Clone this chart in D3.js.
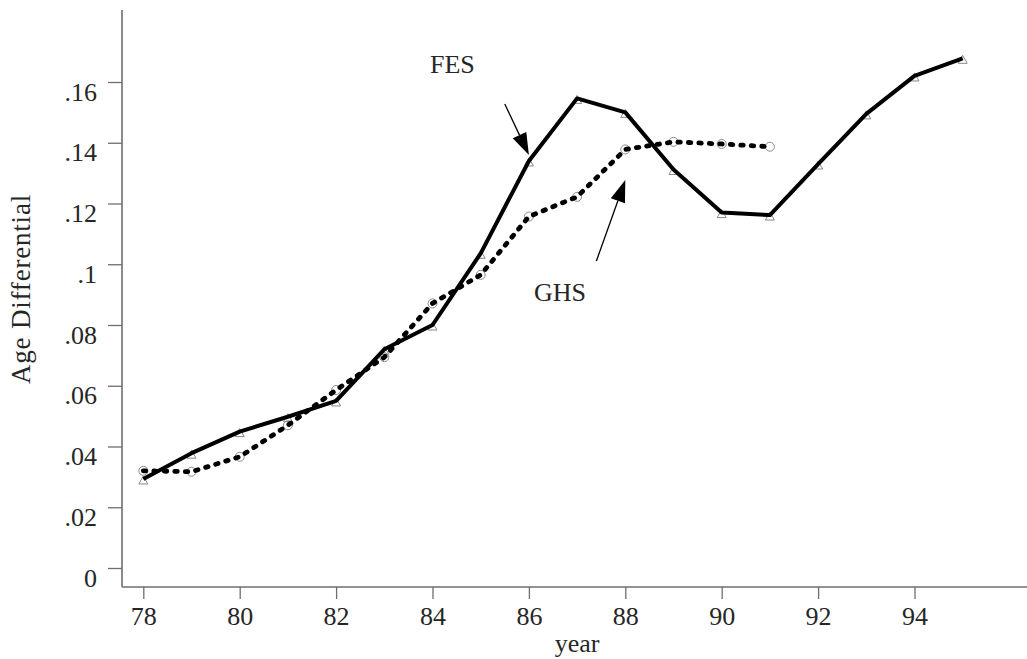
<!DOCTYPE html>
<html>
<head>
<meta charset="utf-8">
<script src="https://cdn.jsdelivr.net/npm/d3@7"></script>
<style>
  html, body { margin: 0; padding: 0; background: #fff; }
  svg { display: block; }
  text { font-family: "Liberation Serif", "DejaVu Serif", serif; fill: #262626; }
</style>
</head>
<body>
<svg id="chart" width="1027" height="659"></svg>
<script>
// Survey years and the age differential estimated from each survey
const years = [78, 79, 80, 81, 82, 83, 84, 85, 86, 87, 88, 89, 90, 91, 92, 93, 94, 95];
const fesValues = [0.0293, 0.0378, 0.0449, 0.0498, 0.0550, 0.0720, 0.0800, 0.1036, 0.1340,
                   0.1546, 0.1500, 0.1312, 0.1170, 0.1162, 0.1330, 0.1495, 0.1620, 0.1678];
const ghsYears = [78, 79, 80, 81, 82, 83, 84, 85, 86, 87, 88, 89, 90, 91];
const ghsValues = [0.0320, 0.0317, 0.0366, 0.0470, 0.0586, 0.0694, 0.0871, 0.0965, 0.1157,
                   0.1222, 0.1378, 0.1403, 0.1396, 0.1387];
const xTicks = [78, 80, 82, 84, 86, 88, 90, 92, 94];
const yTicks = [0, 0.02, 0.04, 0.06, 0.08, 0.10, 0.12, 0.14, 0.16];

const svg = d3.select("#chart");

const x = d3.scaleLinear().domain([78, 95]).range([143.3, 962.7]);
const y = d3.scaleLinear().domain([0, 0.16]).range([568, 82]);

const axisColor = "#6e6e6e";
const axisLeftX = 122, axisBottomY = 587;
const fontSize = "26px";

// Axis lines
svg.append("line")
  .attr("x1", axisLeftX).attr("x2", axisLeftX)
  .attr("y1", 10).attr("y2", axisBottomY)
  .attr("stroke", axisColor).attr("stroke-width", 1.6);
svg.append("line")
  .attr("x1", axisLeftX).attr("x2", 1027)
  .attr("y1", axisBottomY).attr("y2", axisBottomY)
  .attr("stroke", axisColor).attr("stroke-width", 1.6);

// Y axis ticks and labels
const fmtY = v => v === 0 ? "0" : d3.format(".2~f")(v).replace(/^0/, "");
const yAxis = svg.append("g")
  .attr("transform", `translate(${axisLeftX},0)`)
  .call(d3.axisLeft(y).tickValues(yTicks).tickSize(14).tickPadding(11).tickFormat(fmtY));
yAxis.select(".domain").remove();
yAxis.selectAll(".tick line").attr("stroke", axisColor).attr("stroke-width", 1.3);
yAxis.selectAll(".tick text")
  .attr("dy", "0.7em")
  .style("font-size", fontSize)
  .style("font-family", '"Liberation Serif", serif')
  .attr("fill", "#262626");

// X axis ticks and labels
const xAxis = svg.append("g")
  .attr("transform", `translate(0,${axisBottomY})`)
  .call(d3.axisBottom(x).tickValues(xTicks).tickSize(12).tickPadding(8).tickFormat(d3.format("d")));
xAxis.select(".domain").remove();
xAxis.selectAll(".tick line").attr("stroke", axisColor).attr("stroke-width", 1.3);
xAxis.selectAll(".tick text")
  .attr("dy", "0.71em")
  .style("font-size", fontSize)
  .style("font-family", '"Liberation Serif", serif')
  .attr("fill", "#262626");

// Axis titles
svg.append("text")
  .attr("x", 577).attr("y", 652)
  .attr("text-anchor", "middle")
  .style("font-size", fontSize)
  .text("year");
svg.append("text")
  .attr("transform", "translate(30,289) rotate(-90)")
  .attr("text-anchor", "middle")
  .style("font-size", "27px").style("letter-spacing", "0.8px")
  .text("Age Differential");

// Markers
const markerColor = "#8a8a8a";
const triPath = "M0,-3 L4.5,5 L-4.5,5 Z";
svg.append("g").selectAll("path")
  .data(years.map((yr, i) => ({ yr, v: fesValues[i] })))
  .join("path")
  .attr("d", triPath)
  .attr("transform", d => `translate(${x(d.yr)},${y(d.v)})`)
  .attr("fill", "none").attr("stroke", markerColor).attr("stroke-width", 1);

svg.append("g").selectAll("circle")
  .data(ghsYears.map((yr, i) => ({ yr, v: ghsValues[i] })))
  .join("circle")
  .attr("cx", d => x(d.yr)).attr("cy", d => y(d.v)).attr("r", 4.5)
  .attr("fill", "none").attr("stroke", markerColor).attr("stroke-width", 1);

// Series lines
const fesLine = d3.line().x((d, i) => x(years[i])).y(d => y(d));
svg.append("path")
  .attr("d", fesLine(fesValues))
  .attr("fill", "none").attr("stroke", "#000")
  .attr("stroke-width", 4).attr("stroke-linejoin", "round");

const ghsLine = d3.line().x((d, i) => x(ghsYears[i])).y(d => y(d));
svg.append("path")
  .attr("d", ghsLine(ghsValues))
  .attr("fill", "none").attr("stroke", "#000")
  .attr("stroke-width", 4.8).attr("stroke-linecap", "round").attr("stroke-linejoin", "round")
  .attr("stroke-dasharray", "2.5,8");

// Annotations with arrows
function arrow(x1, y1, x2, y2) {
  const ang = Math.atan2(y2 - y1, x2 - x1);
  const len = 22, half = 7.5;
  const bx = x2 - len * Math.cos(ang), by = y2 - len * Math.sin(ang);
  svg.append("line")
    .attr("x1", x1).attr("y1", y1).attr("x2", bx).attr("y2", by)
    .attr("stroke", "#000").attr("stroke-width", 1.3);
  const px = -Math.sin(ang) * half, py = Math.cos(ang) * half;
  svg.append("path")
    .attr("d", `M${x2},${y2} L${bx + px},${by + py} L${bx - px},${by - py} Z`)
    .attr("fill", "#000");
}
arrow(x(85.5), 104, x(86), 155);
arrow(x(87.4), 261, x(88), 180);

svg.append("text").attr("x", 430).attr("y", 73)
  .style("font-size", fontSize).text("FES");
svg.append("text").attr("x", 534).attr("y", 301)
  .style("font-size", fontSize).text("GHS");
</script>
</body>
</html>
